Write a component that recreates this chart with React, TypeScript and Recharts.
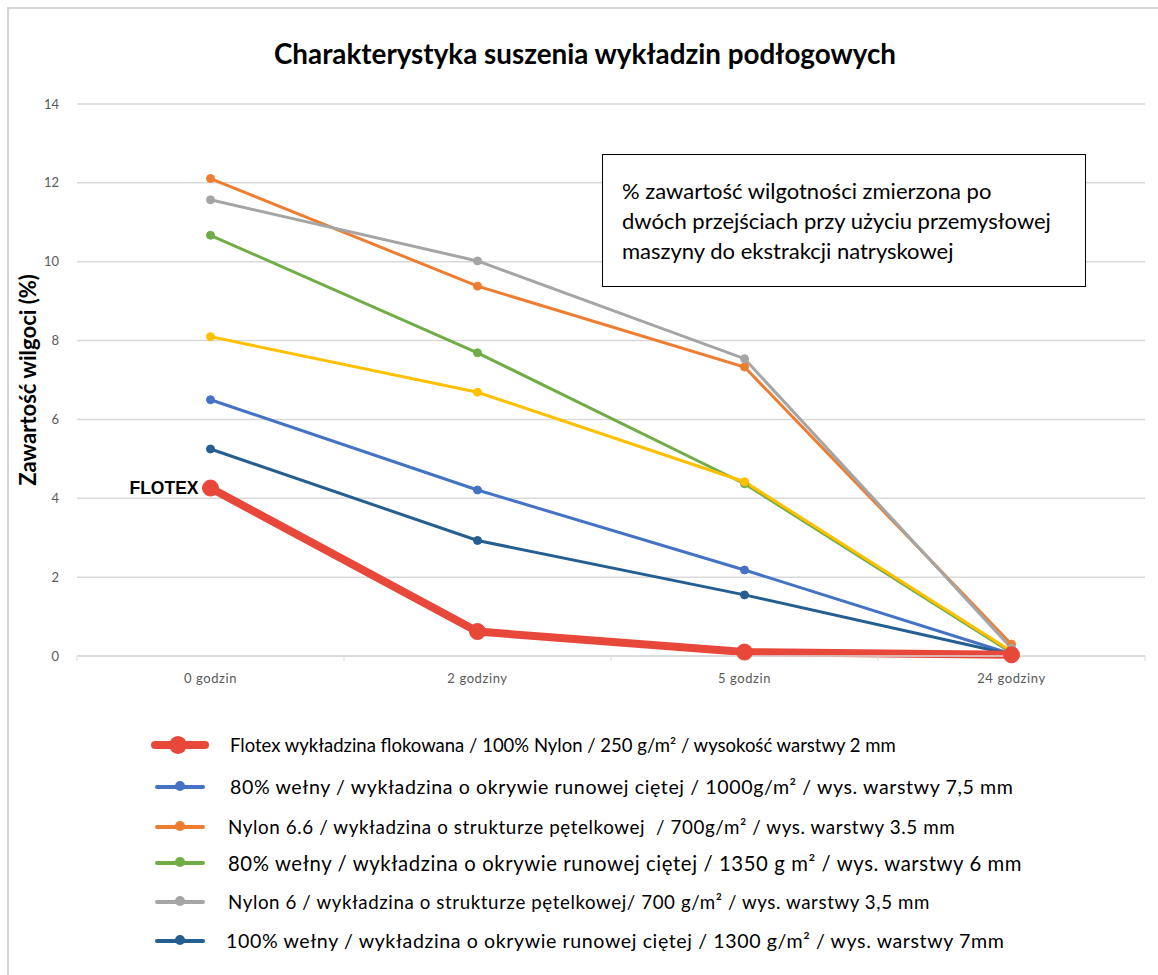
import React from 'react';
import { LineChart, Line, XAxis, YAxis, CartesianGrid } from 'recharts';

// categories (czas suszenia)
const categories = ['0 godzin', '2 godziny', '5 godzin', '24 godziny'];
const yTicks = [0, 2, 4, 6, 8, 10, 12, 14];

// % wilgoci per series
const flotex = [4.26, 0.62, 0.1, 0.03];
const wool1000 = [6.5, 4.21, 2.18, 0.05];
const nylon66 = [12.11, 9.38, 7.33, 0.3];
const wool1350 = [10.67, 7.69, 4.37, 0.08];
const nylon6 = [11.57, 10.02, 7.54, 0.2];
const wool1300 = [5.25, 2.93, 1.55, 0.04];
const extra = [8.1, 6.69, 4.42, 0.12];

const legendNames = [
  'Flotex wykładzina flokowana / 100% Nylon / 250 g/m² / wysokość warstwy 2 mm',
  '80% wełny / wykładzina o okrywie runowej ciętej / 1000g/m² / wys. warstwy 7,5 mm',
  'Nylon 6.6 / wykładzina o strukturze pętelkowej  / 700g/m² / wys. warstwy 3.5 mm',
  '80% wełny / wykładzina o okrywie runowej ciętej / 1350 g m² / wys. warstwy 6 mm',
  'Nylon 6 / wykładzina o strukturze pętelkowej/ 700 g/m² / wys. warstwy 3,5 mm',
  '100% wełny / wykładzina o okrywie runowej ciętej / 1300 g/m² / wys. warstwy 7mm',
];

const annotation = [
  '% zawartość wilgotności zmierzona po',
  'dwóch przejściach przy użyciu przemysłowej',
  'maszyny do ekstrakcji natryskowej',
];

const data = categories.map((cat, i) => ({
  cat,
  flotex: flotex[i],
  wool1000: wool1000[i],
  nylon66: nylon66[i],
  wool1350: wool1350[i],
  nylon6: nylon6[i],
  wool1300: wool1300[i],
  extra: extra[i],
}));

const CAL = "Lato, 'Open Sans', sans-serif";

// legend order matches legendNames
const legendSeries = [
  { key: 'flotex', color: '#E8483A', big: true },
  { key: 'wool1000', color: '#4472C4' },
  { key: 'nylon66', color: '#ED7D31' },
  { key: 'wool1350', color: '#70AD47' },
  { key: 'nylon6', color: '#A5A5A5' },
  { key: 'wool1300', color: '#255E91' },
];
const legendY = [745, 787, 827, 863, 902, 941];
const legendTextX = [230, 230, 228, 228, 228, 226];
const legendFont = [18.5, 19.6, 18.8, 20.3, 18.7, 19.6];

const BAND = 267;

const XTick = (props: any) => {
  const { x, y, payload, index } = props;
  return (
    <g>
      <line x1={x - BAND / 2} x2={x - BAND / 2} y1={656} y2={661} stroke="#d9d9d9" />
      {index === categories.length - 1 && (
        <line x1={x + BAND / 2} x2={x + BAND / 2} y1={656} y2={661} stroke="#d9d9d9" />
      )}
      <text x={x} y={y + 19} textAnchor="middle" fontSize={13} letterSpacing={0.6} fill="#595959" fontFamily={CAL}>
        {payload.value}
      </text>
    </g>
  );
};

const FlotexLabel = (props: any) => {
  const { x, y, index } = props;
  if (index !== 0) return null;
  return (
    <text x={x - 12} y={y + 6} textAnchor="end" fontSize={17.5} fontWeight="bold" fill="#000" fontFamily="'Liberation Sans', Arial, sans-serif">
      FLOTEX
    </text>
  );
};

const small = (color: string) => ({ r: 4, fill: color, stroke: color, strokeWidth: 1 });

const App: React.FC = () => {
  return (
    <div style={{ position: 'absolute', left: 0, top: 0, width: 1158, height: 975, background: '#fff', overflow: 'hidden' }}>
      <div style={{ position: 'absolute', left: 7, top: 7, width: 1160, height: 980, borderLeft: '2px solid #d4d4d4', borderTop: '2px solid #d4d4d4' }} />
      <div style={{ position: 'absolute', left: 0, top: 37, width: 1170, textAlign: 'center', fontFamily: CAL, fontWeight: 'bold', fontSize: 27.8, color: '#000' }}>
        Charakterystyka suszenia wykładzin podłogowych
      </div>

      <div style={{ position: 'absolute', left: 0, top: 0 }}>
        <LineChart width={1158} height={700} data={data} margin={{ top: 104, right: 13, left: 0, bottom: 14 }}>
          <CartesianGrid vertical={false} stroke="#d9d9d9" strokeWidth={1.5} />
          <XAxis
            dataKey="cat"
            height={30}
            padding={{ left: BAND / 2, right: BAND / 2 }}
            axisLine={{ stroke: '#d9d9d9', strokeWidth: 1.5 }}
            tickLine={false}
            tick={<XTick />}
            interval={0}
          />
          <YAxis
            width={77}
            domain={[0, 14]}
            ticks={yTicks}
            axisLine={false}
            tickLine={false}
            tickSize={0}
            tickMargin={18}
            tick={{ fontSize: 13, fill: '#595959', fontFamily: CAL }}
            label={{
              value: 'Zawartość wilgoci (%)',
              angle: -90,
              position: 'insideLeft',
              offset: 0,
              dx: 28,
              style: { textAnchor: 'middle', fontSize: 22, fontWeight: 'bold', fill: '#000', fontFamily: CAL },
            }}
          />
          <Line dataKey="wool1000" stroke="#4472C4" strokeWidth={3} dot={small('#4472C4')} isAnimationActive={false} />
          <Line dataKey="wool1300" stroke="#255E91" strokeWidth={3} dot={small('#255E91')} isAnimationActive={false} />
          <Line dataKey="nylon66" stroke="#ED7D31" strokeWidth={3} dot={small('#ED7D31')} isAnimationActive={false} />
          <Line dataKey="nylon6" stroke="#A5A5A5" strokeWidth={3} dot={small('#A5A5A5')} isAnimationActive={false} />
          <Line dataKey="wool1350" stroke="#70AD47" strokeWidth={3} dot={small('#70AD47')} isAnimationActive={false} />
          <Line dataKey="extra" stroke="#FFC000" strokeWidth={3} dot={small('#FFC000')} isAnimationActive={false} />
          <Line
            dataKey="flotex"
            stroke="#E8483A"
            strokeWidth={8}
            dot={{ r: 8, fill: '#E8483A', stroke: '#E8483A', strokeWidth: 1 }}
            label={<FlotexLabel />}
            isAnimationActive={false}
          />
        </LineChart>
      </div>

      <div
        style={{
          position: 'absolute',
          left: 602,
          top: 154,
          width: 484,
          height: 133,
          boxSizing: 'border-box',
          border: '1.5px solid #000',
          background: '#fff',
          padding: '21px 0 0 19px',
          fontFamily: CAL,
          fontSize: 22,
          lineHeight: '30px',
          color: '#000',
          whiteSpace: 'nowrap',
        }}
      >
        {annotation.map((t) => (
          <div key={t}>{t}</div>
        ))}
      </div>

      {legendSeries.map((s, i) => (
        <div key={s.key}>
          <svg style={{ position: 'absolute', left: 150, top: legendY[i] - 12 }} width={60} height={24}>
            {s.big ? (
              <>
                <line x1={5} x2={55} y1={12} y2={12} stroke={s.color} strokeWidth={8} strokeLinecap="round" />
                <circle cx={28} cy={12} r={9} fill={s.color} />
              </>
            ) : (
              <>
                <line x1={7} x2={53} y1={12} y2={12} stroke={s.color} strokeWidth={4} strokeLinecap="round" />
                <circle cx={30} cy={11} r={5} fill={s.color} />
              </>
            )}
          </svg>
          <div
            style={{
              position: 'absolute',
              left: legendTextX[i],
              top: legendY[i] - 13,
              fontFamily: CAL,
              fontSize: legendFont[i],
              letterSpacing: s.big ? 0 : 0.6,
              lineHeight: '26px',
              whiteSpace: 'pre',
              color: '#000',
            }}
          >
            {legendNames[i]}
          </div>
        </div>
      ))}
    </div>
  );
};

export default App;
